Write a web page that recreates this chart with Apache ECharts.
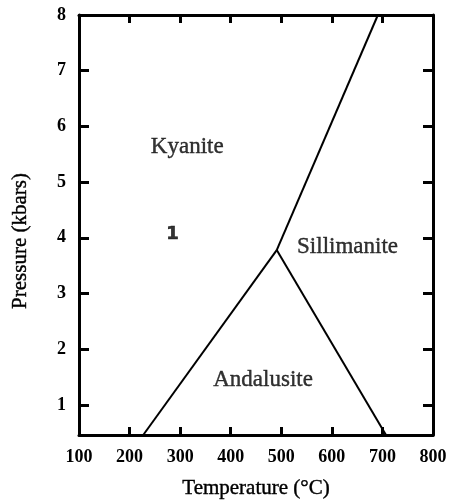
<!DOCTYPE html>
<html>
<head>
    <meta charset="utf-8">
    <title></title>
    <script src="https://cdn.jsdelivr.net/npm/echarts@6.0.0/dist/echarts.min.js"></script>
</head>
<body style="margin:0;background:#fff;">
<div id="main" style="width:451px;height:500px;"></div>
<script type="text/javascript">
    // phase boundaries [temperature °C, pressure kbar]
    var kyaniteSillimanite = [[491, 3.78], [691, 8]];
    var andalusiteKyanite = [[227, 0.46], [491, 3.78]];
    var andalusiteSillimanite = [[491, 3.78], [707, 0.46]];

    // field labels
    var fieldNames = ['Kyanite', '1', 'Sillimanite', 'Andalusite'];
    var fieldT = [314, 285, 631, 464];
    var fieldP = [5.63, 4.06, 3.83, 1.45];

    var pTicks = [1, 2, 3, 4, 5, 6, 7, 8];
    var tMin = 100, tMax = 800, tStep = 100;
    var pMin = 0.46, pMax = 8;

    var font = 'Liberation Serif';
    var labelData = [];
    for (var i = 0; i < fieldNames.length; i++) {
        var d = { name: fieldNames[i], value: [fieldT[i], fieldP[i]] };
        if (fieldNames[i] == '1') {
            // the little marker is a bold sans digit in the original
            d.label = { fontFamily: 'DejaVu Sans', fontWeight: 'bold', fontSize: 18, color: '#000', textBorderColor: '#000', textBorderWidth: 0.6 };
        }
        labelData.push(d);
    }

    function boundary(pts) {
        return {
            type: 'line',
            data: pts,
            symbol: 'none',
            silent: true,
            lineStyle: { color: '#000', width: 2 }
        };
    }

    var frameLine = { show: true, onZero: false, lineStyle: { color: '#000', width: 3 } };
    // the scanned text is a bit heavier than plain serif
    var heavy = { textBorderColor: '#000', textBorderWidth: 0.4 };

    var myChart = echarts.init(document.getElementById('main'));
    myChart.setOption({
        animation: false,
        backgroundColor: '#fff',
        grid: { left: 79, right: 18, top: 15, bottom: 65, outerBoundsMode: 'none' },
        xAxis: [{
            type: 'value', min: tMin, max: tMax, interval: tStep,
            name: 'Temperature (°C)', nameLocation: 'middle', nameGap: 43,
            nameTextStyle: Object.assign({ fontFamily: font, fontSize: 21, color: '#000' }, heavy),
            axisLine: frameLine,
            axisTick: { inside: true, length: 8, lineStyle: { color: '#000', width: 3 } },
            axisLabel: { margin: 13, fontFamily: font, fontSize: 18, fontWeight: 'bold', color: '#000' },
            splitLine: { show: false }
        }, {
            type: 'value', position: 'top', min: tMin, max: tMax, interval: tStep,
            axisLine: frameLine,
            axisTick: { inside: true, length: 8, lineStyle: { color: '#000', width: 3 } },
            axisLabel: { show: false },
            splitLine: { show: false }
        }],
        yAxis: [{
            type: 'value', min: pMin, max: pMax,
            name: 'Pressure (kbars)', nameLocation: 'middle', nameGap: 48,
            nameTextStyle: Object.assign({ fontFamily: font, fontSize: 21, color: '#000', padding: [0, 32, 0, 0] }, heavy),
            axisLine: frameLine,
            axisTick: { inside: true, length: 10, customValues: pTicks, lineStyle: { color: '#000', width: 3 } },
            axisLabel: { margin: 13, customValues: pTicks, fontFamily: font, fontSize: 18, fontWeight: 'bold', color: '#000' },
            splitLine: { show: false }
        }, {
            type: 'value', position: 'right', min: pMin, max: pMax,
            axisLine: frameLine,
            axisTick: { inside: true, length: 10, customValues: pTicks, lineStyle: { color: '#000', width: 3 } },
            axisLabel: { show: false },
            splitLine: { show: false }
        }],
        series: [
            boundary(kyaniteSillimanite),
            boundary(andalusiteKyanite),
            boundary(andalusiteSillimanite),
            {
                type: 'scatter',
                data: labelData,
                symbolSize: 0,
                silent: true,
                label: Object.assign({
                    show: true, position: 'inside',
                    formatter: '{b}',
                    fontFamily: font, fontSize: 23, color: '#000'
                }, heavy)
            }
        ]
    });
</script>
</body>
</html>
